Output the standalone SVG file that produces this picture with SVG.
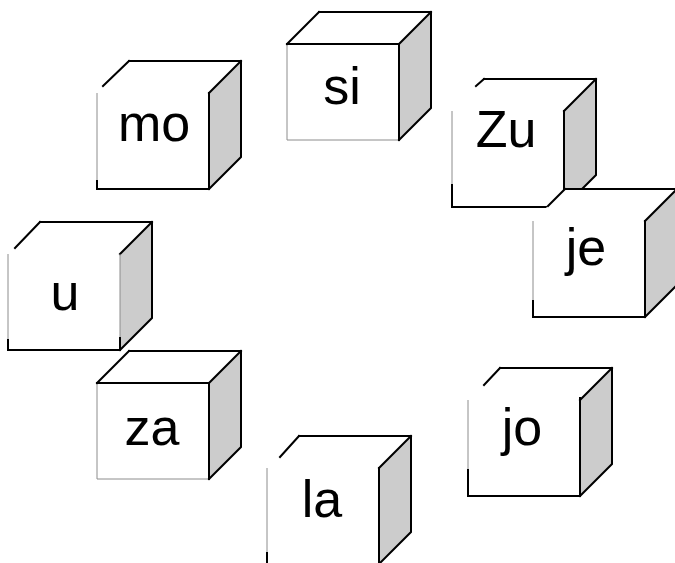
<svg xmlns="http://www.w3.org/2000/svg" xmlns:xlink="http://www.w3.org/1999/xlink" width="675" height="563" viewBox="0 0 675 563">
<style>
.face{fill:#ffffff;stroke:none}
.side{fill:#cccccc;stroke:none}
.k{fill:none;stroke:#000000;stroke-width:2;stroke-linejoin:miter;stroke-linecap:square}
.t{fill:none;stroke:#8c8c8c;stroke-width:1}
.lbl{font-family:"Liberation Sans",Arial,sans-serif;font-size:52px;fill:#000000;text-anchor:middle}
</style>
<defs>
<g id="base">
<polygon class="face" points="0,0 32,-32 144,-32 112,0"/>
<rect class="face" x="0" y="0" width="112" height="96"/>
<polygon class="side" points="112,0 144,-32 144,64 112,96"/>
<path class="k" d="M32,-32 H144 V64 L112,96 M112,0 L144,-32"/>
</g>
</defs>
<rect width="675" height="563" fill="#ffffff"/>
<g id="connectors"></g>
<g id="cube-si" transform="translate(287,44)">
<use xlink:href="#base"/>
<path class="t" d="M0,0 V96 H112"/>
<path class="k" d="M0,0 L32,-32 M0,0 H112 M112,0 V96"/>
<text class="lbl" x="55" y="60">si</text>
</g>
<g id="cube-mo" transform="translate(97,93)">
<use xlink:href="#base"/>
<path class="t" d="M0,0 V88"/>
<path class="k" d="M32,-32 L6,-7 M0,88 V96 H112 M112,0 V96"/>
<text class="lbl" x="57" y="48">mo</text>
</g>
<g id="cube-Zu" transform="translate(452,111)">
<use xlink:href="#base"/>
<path class="t" d="M0,0 V74"/>
<path class="k" d="M32,-32 L24,-25 M0,74 V96 H112 M112,0 V96"/>
<text class="lbl" x="54" y="36">Zu</text>
</g>
<g id="cube-je" transform="translate(533,221)">
<use xlink:href="#base"/>
<path class="t" d="M0,0 V80"/>
<path class="k" d="M32,-32 L15,-15 M0,80 V96 H112 M112,0 V96"/>
<text class="lbl" x="53" y="44">je</text>
</g>
<g id="cube-u" transform="translate(8,254)">
<use xlink:href="#base"/>
<path class="t" d="M0,0 V86 M112,0 V84"/>
<path class="k" d="M32,-32 L7,-6 M0,86 V96 H112 V84"/>
<text class="lbl" x="57" y="56">u</text>
</g>
<g id="cube-za" transform="translate(97,383)">
<use xlink:href="#base"/>
<path class="t" d="M0,0 V96 H112"/>
<path class="k" d="M0,0 L32,-32 M0,0 H112 M112,0 V96"/>
<text class="lbl" x="55" y="62">za</text>
</g>
<g id="cube-jo" transform="translate(468,400)">
<use xlink:href="#base"/>
<path class="t" d="M0,0 V70"/>
<path class="k" d="M32,-32 L16,-15 M0,70 V96 H112 M112,-2 V96"/>
<text class="lbl" x="54" y="45">jo</text>
</g>
<g id="cube-la" transform="translate(267,468)">
<use xlink:href="#base"/>
<path class="t" d="M0,0 V85"/>
<path class="k" d="M32,-32 L13,-11 M0,85 V96 H112 M112,0 V96"/>
<text class="lbl" x="55" y="49">la</text>
</g>
</svg>
